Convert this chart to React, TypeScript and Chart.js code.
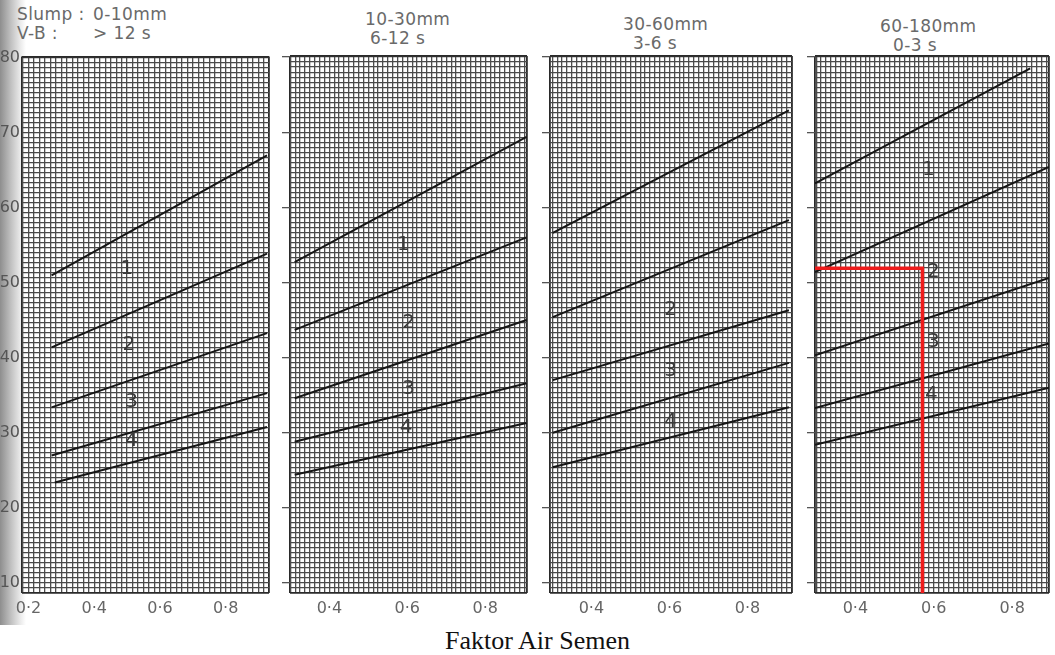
import React, { useEffect, useRef } from "react";
import { Chart, registerables } from "chart.js";

Chart.register(...registerables);

// ---------- data ----------
const yMin = 26 / 3;
const yMax = 80.15;
const yGridStep = 2 / 3;
const yLabelValues = [10, 20, 30, 40, 50, 60, 70, 80];
const xLabelValues = [0.2, 0.4, 0.6, 0.8];

const slumpTexts = ["0-10mm", "10-30mm", "30-60mm", "60-180mm"];
const vbTexts = ["> 12 s", "6-12 s", "3-6 s", "0-3 s"];
const xTitle = "Faktor Air Semen";

const panelXMin = [0.18, 0.299, 0.294, 0.297];
const panelXMax = [0.932, 0.907, 0.914, 0.894];
const panelXGridStep = [1 / 60, 1 / 80, 1 / 80, 1 / 80];

// each line: [x1, y1, x2, y2]
const panel1Lines = [
  [0.27, 51.0, 0.926, 67.0],
  [0.27, 41.4, 0.926, 53.9],
  [0.27, 33.4, 0.926, 43.3],
  [0.27, 27.0, 0.926, 35.3],
  [0.28, 23.4, 0.926, 30.8],
];
const panel2Lines = [
  [0.311, 52.7, 0.906, 69.4],
  [0.311, 43.7, 0.906, 56.0],
  [0.311, 34.6, 0.906, 45.0],
  [0.311, 28.8, 0.906, 36.6],
  [0.311, 24.4, 0.906, 31.3],
];
const panel3Lines = [
  [0.301, 56.6, 0.906, 72.9],
  [0.301, 45.4, 0.906, 58.3],
  [0.301, 37.0, 0.906, 46.3],
  [0.301, 30.0, 0.906, 39.3],
  [0.301, 25.4, 0.906, 33.4],
];
const panel4Lines = [
  [0.297, 63.2, 0.846, 78.5],
  [0.297, 51.4, 0.894, 65.4],
  [0.297, 40.3, 0.894, 50.6],
  [0.297, 33.3, 0.894, 41.9],
  [0.297, 28.4, 0.894, 36.0],
];

// zone labels: [text, x, y]
const panel1Zones: [string, number, number][] = [
  ["1", 0.499, 51.9],
  ["2", 0.505, 41.7],
  ["3", 0.514, 34.1],
  ["4", 0.514, 29.0],
];
const panel2Zones: [string, number, number][] = [
  ["1", 0.59, 55.0],
  ["2", 0.603, 44.7],
  ["3", 0.603, 35.9],
  ["4", 0.597, 30.6],
];
const panel3Zones: [string, number, number][] = [
  ["2", 0.603, 46.3],
  ["3", 0.603, 38.3],
  ["4", 0.603, 31.4],
];
const panel4Zones: [string, number, number][] = [
  ["1", 0.586, 65.0],
  ["2", 0.599, 51.4],
  ["3", 0.599, 42.1],
  ["4", 0.594, 35.0],
];

// red guide line in panel 4
const guideX = [0.297, 0.571, 0.571];
const guideY = [51.9, 51.9, yMin];

// ---------- layout ----------
const areaLeft = [22, 290, 550, 815];
const areaRight = [272, 530, 795, 1052];
const areaTop = 56;
const areaBottom = 593;
const padTop = 11;
const xAxisH = 30;
const yAxisW = [22, 12, 12, 12];

const panelLines = [panel1Lines, panel2Lines, panel3Lines, panel4Lines];
const panelZones = [panel1Zones, panel2Zones, panel3Zones, panel4Zones];

const SANS = "'DejaVu Sans', 'Liberation Sans', sans-serif";

function makeTicks(min: number, max: number, step: number) {
  const out = [{ value: min }];
  const k0 = Math.floor(min / step + 1e-9) + 1;
  for (let k = k0; k * step < max - 1e-9; k++) {
    const v = k * step;
    if (v - min > 1e-9) out.push({ value: v });
  }
  out.push({ value: max });
  return out;
}

function isNear(v: number, arr: number[]) {
  return arr.some((a) => Math.abs(a - v) < 1e-6);
}

function Panel({ index }: { index: number }) {
  const ref = useRef<HTMLCanvasElement>(null);
  const xMin = panelXMin[index];
  const xMax = panelXMax[index];
  const step = panelXGridStep[index];
  const left = areaLeft[index] - yAxisW[index];
  const width = areaRight[index] - left + 3;
  const top = areaTop - padTop;
  const height = padTop + (areaBottom - areaTop) + xAxisH;

  useEffect(() => {
    if (!ref.current) return;
    const datasets: any[] = [];
    if (index === 3) {
      datasets.push({
        data: guideX.map((x, i) => ({ x, y: guideY[i] })),
        borderColor: "#ee1c1c",
        borderWidth: 3.5,
        pointRadius: 0,
        fill: false,
        tension: 0,
      });
    }
    panelLines[index].forEach((l) => {
      datasets.push({
        data: [
          { x: l[0], y: l[1] },
          { x: l[2], y: l[3] },
        ],
        borderColor: "#161616",
        borderWidth: 2,
        pointRadius: 0,
        fill: false,
        tension: 0,
      });
    });

    const zones = panelZones[index];
    const zonePlugin = {
      id: "zoneLabels" + index,
      afterDatasetsDraw(chart: any) {
        const ctx = chart.ctx;
        ctx.save();
        ctx.font = "20px " + SANS;
        ctx.fillStyle = "#3a3a3a";
        ctx.textAlign = "center";
        ctx.textBaseline = "middle";
        zones.forEach(([t, x, y]) => {
          ctx.fillText(
            t,
            chart.scales.x.getPixelForValue(x),
            chart.scales.y.getPixelForValue(y)
          );
        });
        ctx.restore();
      },
    };

    const isEdge = (v: number, lo: number, hi: number) =>
      Math.abs(v - lo) < 1e-9 || Math.abs(v - hi) < 1e-9;

    const chart = new Chart(ref.current, {
      type: "line",
      data: { datasets },
      plugins: [zonePlugin],
      options: {
        animation: false,
        responsive: false,
        maintainAspectRatio: false,
        events: [],
        layout: { padding: { top: padTop, right: 3, left: 0, bottom: 0 } },
        plugins: { legend: { display: false }, tooltip: { enabled: false } },
        scales: {
          x: {
            type: "linear",
            min: xMin,
            max: xMax,
            afterBuildTicks: (s: any) => {
              s.ticks = makeTicks(xMin, xMax, step);
            },
            afterFit: (s: any) => {
              s.height = xAxisH;
            },
            ticks: {
              autoSkip: false,
              maxRotation: 0,
              minRotation: 0,
              padding: 6,
              color: "#666666",
              font: { family: SANS, size: 16 },
              callback: (v: any) =>
                isNear(Number(v), xLabelValues) ? "0·" + Math.round(Number(v) * 10) : "",
            },
            grid: {
              drawTicks: false,
              color: (c: any) =>
                isEdge(c.tick ? c.tick.value : 0, xMin, xMax) ? "#2a2a2a" : "#4e4e4e",
              lineWidth: (c: any) =>
                isEdge(c.tick ? c.tick.value : 0, xMin, xMax) ? 1.8 : 1.3,
            },
            border: { display: false },
          },
          y: {
            type: "linear",
            min: yMin,
            max: yMax,
            afterBuildTicks: (s: any) => {
              s.ticks = makeTicks(yMin, yMax, yGridStep);
            },
            afterFit: (s: any) => {
              s.width = yAxisW[index];
            },
            ticks: {
              display: index === 0,
              autoSkip: false,
              padding: 2,
              color: "#555555",
              font: { family: SANS, size: 16 },
              callback: (v: any) =>
                isNear(Number(v), yLabelValues) ? String(Math.round(Number(v))) : "",
            },
            grid: {
              drawTicks: index !== 0,
              tickLength: 8,
              tickColor: (c: any) =>
                c.tick && isNear(c.tick.value, yLabelValues) ? "#555" : "rgba(0,0,0,0)",
              color: (c: any) =>
                isEdge(c.tick ? c.tick.value : 0, yMin, yMax) ? "#2a2a2a" : "#4a4a4a",
              lineWidth: (c: any) =>
                isEdge(c.tick ? c.tick.value : 0, yMin, yMax) ? 1.8 : 1.3,
            },
            border: { display: false },
          },
        },
      } as any,
    });
    return () => chart.destroy();
  }, [index]);

  return (
    <canvas
      ref={ref}
      width={width}
      height={height}
      style={{ position: "absolute", left, top, width, height }}
    />
  );
}

const headerLeft = [93, 365, 623, 880];
const header2Left = [93, 370, 633, 893];
const headerTop = [4, 9, 14, 16];

export default function App() {
  const txt: React.CSSProperties = {
    position: "absolute",
    fontFamily: SANS,
    fontSize: 17,
    color: "#6a6a6a",
    whiteSpace: "nowrap",
    letterSpacing: 0.4,
    lineHeight: "20px",
  };
  return (
    <div
      style={{
        position: "fixed",
        left: 0,
        top: 0,
        width: 1055,
        height: 655,
        background: "#ffffff",
        overflow: "hidden",
      }}
    >
      <div
        style={{
          position: "absolute",
          left: 0,
          top: 0,
          width: 26,
          height: 625,
          background:
            "linear-gradient(to right, #8e8e8e 0%, #c4c4c4 45%, #ececec 80%, rgba(255,255,255,0) 100%)",
        }}
      />
      <div style={{ ...txt, left: 17, top: headerTop[0] }}>Slump :</div>
      <div style={{ ...txt, left: 17, top: headerTop[0] + 19 }}>V-B :</div>
      {slumpTexts.map((s, i) => (
        <div key={"s" + i} style={{ ...txt, left: headerLeft[i], top: headerTop[i] }}>
          {s}
        </div>
      ))}
      {vbTexts.map((s, i) => (
        <div key={"v" + i} style={{ ...txt, left: header2Left[i], top: headerTop[i] + 19 }}>
          {s}
        </div>
      ))}
      {[0, 1, 2, 3].map((i) => (
        <Panel key={i} index={i} />
      ))}
      <div
        style={{
          position: "absolute",
          left: 0,
          width: 1075,
          top: 626,
          textAlign: "center",
          fontFamily: "'Liberation Serif', 'DejaVu Serif', serif",
          fontSize: 26,
          color: "#111",
          lineHeight: "30px",
        }}
      >
        {xTitle}
      </div>
    </div>
  );
}
